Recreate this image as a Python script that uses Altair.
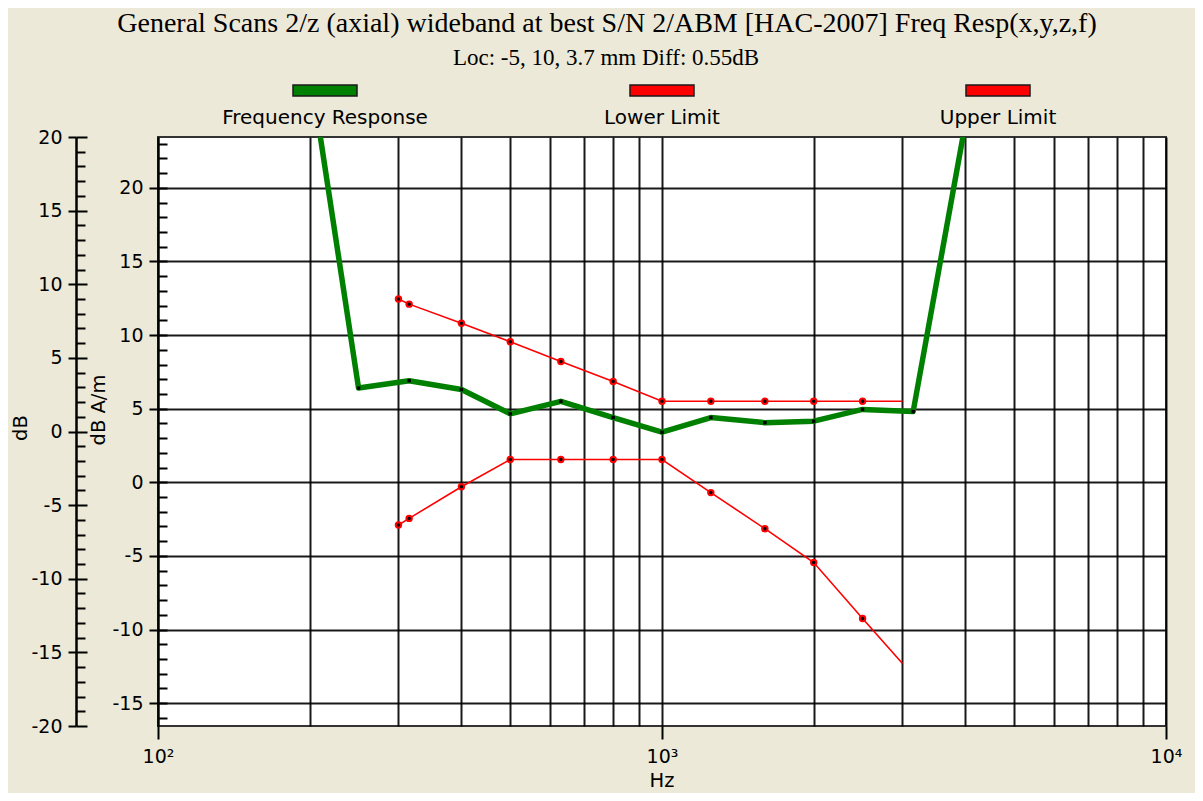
import altair as alt
import pandas as pd

# ---------------- data ----------------
freq_resp_hz = [200, 250, 315, 400, 500, 630, 800, 1000, 1250, 1600, 2000, 2500, 3150, 4000]
freq_resp_db = [28.2, 6.4, 6.9, 6.3, 4.65, 5.5, 4.4, 3.4, 4.4, 4.05, 4.15, 4.95, 4.8, 24.4]

limit_hz = [300, 315, 400, 500, 630, 800, 1000, 1250, 1600, 2000, 2500, 3000]
lower_limit_db = [-2.9, -2.45, -0.3, 1.55, 1.55, 1.55, 1.55, -0.7, -3.15, -5.45, -9.25, -12.3]
upper_limit_db = [12.45, 12.1, 10.8, 9.55, 8.2, 6.85, 5.5, 5.5, 5.5, 5.5, 5.5, 5.5]

series_names = ["Frequency Response", "Lower Limit", "Upper Limit"]
series_colors = ["#008000", "#FF0000", "#FF0000"]

x_grid_hz = [100, 200, 300, 400, 500, 600, 700, 800, 900,
             1000, 2000, 3000, 4000, 5000, 6000, 7000, 8000, 9000, 10000]
x_domain = [100, 10000]
inner_domain = [-16.55, 23.45]   # dB A/m
outer_domain = [-20, 20]         # dB
inner_major = [-15, -10, -5, 0, 5, 10, 15, 20]
inner_minor = list(range(-16, 24))
outer_major = [-20, -15, -10, -5, 0, 5, 10, 15, 20]
outer_minor = list(range(-20, 21))

title_text = "General Scans 2/z (axial) wideband at best S/N 2/ABM [HAC-2007] Freq Resp(x,y,z,f)"
subtitle_text = "Loc: -5, 10, 3.7 mm Diff: 0.55dB"

# ---------------- tables ----------------
fr_df = pd.DataFrame({"hz": freq_resp_hz, "db": freq_resp_db})
lim_df = pd.concat([
    pd.DataFrame({"hz": limit_hz, "db": lower_limit_db, "series": series_names[1]}),
    pd.DataFrame({"hz": limit_hz, "db": upper_limit_db, "series": series_names[2]}),
])

W, H = 1008, 589
SANS = "DejaVu Sans"
SERIF = "Liberation Serif"
HYPHEN_LABEL = "(datum.value < 0 ? '-' : '') + abs(datum.value)"

x_scale = alt.Scale(type="log", domain=x_domain, nice=False)
y_in = alt.Scale(domain=inner_domain, nice=False, zero=False)
y_out = alt.Scale(domain=outer_domain, nice=False, zero=False)

decade = "datum.value == 100 || datum.value == 1000 || datum.value == 10000"
x_axis = alt.Axis(
    values=x_grid_hz, grid=True, gridColor="#000000", gridWidth=2, gridOpacity=0.9,
    ticks=True, tickColor="#000000", tickWidth=2, tickSize=13,
    tickOpacity={"condition": {"test": decade, "value": 1}, "value": 0},
    labelExpr="datum.value == 100 ? '10²' : datum.value == 1000 ? '10³' : datum.value == 10000 ? '10⁴' : ''",
    labelFont=SANS, labelFontSize=19, labelColor="#000000", labelPadding=8,
    labelFlush=False, labelOverlap=False, labelBound=False, domain=False, title=None,
)
inner_axis = alt.Axis(
    orient="left", values=inner_major, grid=True, gridColor="#000000", gridWidth=2, gridOpacity=0.9,
    tickSize=9, tickWidth=2, tickColor="#000000", labelExpr=HYPHEN_LABEL,
    labelFont=SANS, labelFontSize=19, labelColor="#000000", labelPadding=6,
    domain=True, domainColor="#000000", domainWidth=2, title=None,
)

X = alt.X("hz:Q", scale=x_scale, axis=x_axis)

green_line = alt.Chart(fr_df).mark_line(
    color=series_colors[0], strokeWidth=5.5, clip=True, strokeJoin="round"
).encode(x=X, y=alt.Y("db:Q", scale=y_in, axis=inner_axis))
green_dots = alt.Chart(fr_df).mark_point(
    shape="square", filled=True, color="#000000", size=12, opacity=1, clip=True
).encode(x=X, y=alt.Y("db:Q", scale=y_in, axis=None))

red_lines = alt.Chart(lim_df).mark_line(
    color=series_colors[1], strokeWidth=1.6, clip=True
).encode(x=X, y=alt.Y("db:Q", scale=y_in, axis=None), detail="series:N")
red_marks = alt.Chart(lim_df).transform_filter("datum.hz < 3000").mark_circle(
    color=series_colors[1], size=55, opacity=1
).encode(x=X, y=alt.Y("db:Q", scale=y_in, axis=None))
red_centers = alt.Chart(lim_df).transform_filter("datum.hz < 3000").mark_circle(
    color="#000000", size=12, opacity=1
).encode(x=X, y=alt.Y("db:Q", scale=y_in, axis=None))

dummy = pd.DataFrame({"v": [0]})
outer_axis_layer = alt.Chart(dummy).mark_point(opacity=0).encode(
    y=alt.Y("v:Q", scale=y_out, axis=alt.Axis(
        orient="left", offset=82, values=outer_major, grid=False,
        tickSize=8, tickWidth=2, tickColor="#000000", labelExpr=HYPHEN_LABEL,
        labelFont=SANS, labelFontSize=19, labelColor="#000000", labelPadding=6,
        domain=True, domainColor="#000000", domainWidth=2.5, title=None,
    ))
)
outer_minor_layer = alt.Chart(dummy).mark_point(opacity=0).encode(
    y=alt.Y("v:Q", scale=y_out, axis=alt.Axis(
        orient="right", offset=-(W + 82), values=outer_minor, grid=False,
        tickSize={"condition": {"test": "datum.value % 5 == 0", "value": 11}, "value": 9},
        tickWidth=2, tickColor="#000000", labels=False, domain=False, title=None,
    ))
)
inner_minor_layer = alt.Chart(dummy).mark_point(opacity=0).encode(
    y=alt.Y("v:Q", scale=y_in, axis=alt.Axis(
        orient="right", offset=-W, values=inner_minor, grid=False,
        tickSize=9, tickWidth=2, tickColor="#000000", labels=False, domain=False, title=None,
    ))
)


def text_layer(txt, x, y, size, font, angle=0, baseline="middle"):
    return alt.Chart(pd.DataFrame({"t": [txt]})).mark_text(
        font=font, fontSize=size, color="#000000", align="center",
        baseline=baseline, angle=angle,
    ).encode(text="t:N", x=alt.value(x), y=alt.value(y))


deco = [
    text_layer(title_text, 449, -105, 28, SERIF, baseline="alphabetic"),
    text_layer(subtitle_text, 448, -72, 23, SERIF, baseline="alphabetic"),
    text_layer("dB", -137, 291, 19.5, SANS, angle=270),
    text_layer("dB A/m", -59, 273, 19.5, SANS, angle=270),
    text_layer("Hz", 504, 644, 19.5, SANS),
]
legend_centers = [167, 504, 840]
for name, col, cx in zip(series_names, series_colors, legend_centers):
    deco.append(
        alt.Chart(pd.DataFrame({"t": [name]})).mark_rect(
            fill=col, stroke="#1a1a1a", strokeWidth=1.5
        ).encode(x=alt.value(cx - 32), x2=alt.value(cx + 32), y=alt.value(-52), y2=alt.value(-41))
    )
    deco.append(text_layer(name, cx, -19, 20, SANS))

chart = alt.layer(
    green_line, red_lines, green_dots, red_marks, red_centers,
    outer_axis_layer, outer_minor_layer, inner_minor_layer, *deco
).resolve_scale(y="independent").resolve_axis(y="independent").properties(
    width=W, height=H,
    autosize=alt.AutoSizeParams(type="none"),
    padding={"left": 150, "top": 129, "right": 29, "bottom": 67},
    background="#ECE9D8",
).configure_view(
    fill="#FFFFFF", stroke="#333333", strokeWidth=2
)

chart.save("out.html", embed_options={"renderer": "svg", "actions": False})
